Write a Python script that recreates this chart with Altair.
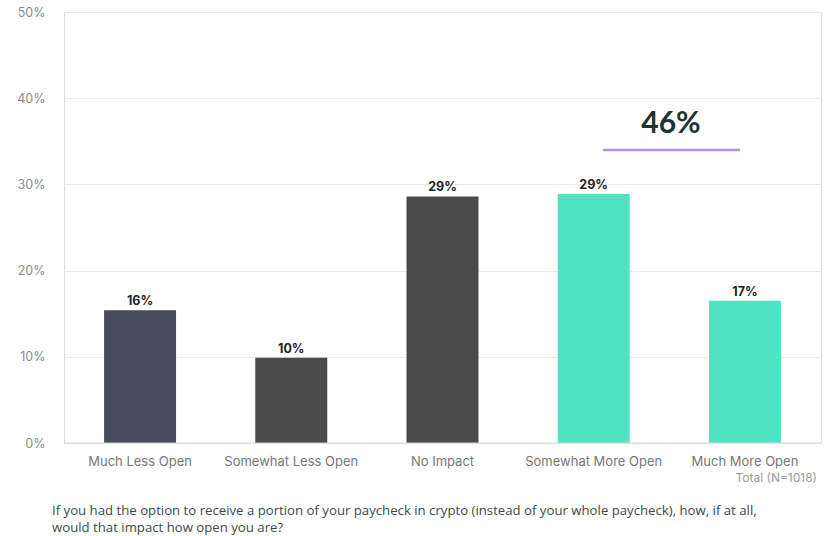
import altair as alt
import pandas as pd

categories = ["Much Less Open", "Somewhat Less Open", "No Impact", "Somewhat More Open", "Much More Open"]
values = [0.154, 0.099, 0.286, 0.289, 0.165]
labels = ["16%", "10%", "29%", "29%", "17%"]
colors = ["#474a5b", "#4a4a4a", "#4a4a4a", "#50e3c2", "#50e3c2"]

highlight_label = "46%"
highlight_y = [0.37]
highlight_line_y = [0.34]
total_note = "Total (N=1018)"
question_text = ("If you had the option to receive a portion of your paycheck in crypto (instead of your whole paycheck), how, if at all,\n"
                 "would that impact how open you are?")

df = pd.DataFrame({"cat": categories, "value": values, "label": labels, "color": colors})

W, H = 757, 431
yscale = alt.Scale(domain=[0, 0.5], nice=False)

x = alt.X("cat:N", sort=categories,
          scale=alt.Scale(paddingInner=0.524, paddingOuter=0.265),
          axis=alt.Axis(title=None, labelAngle=0, labelColor="#777777", labelFont="Inter",
                        labelFontSize=13, labelPadding=12, ticks=False, domain=False))
y = alt.Y("value:Q", scale=yscale,
          axis=alt.Axis(title=None, format=".0%", values=[0, 0.1, 0.2, 0.3, 0.4, 0.5],
                        labelColor="#8a8a8a", labelFont="Inter", labelFontSize=12.5,
                        labelPadding=19, ticks=False, domain=False,
                        gridColor="#e9e9ec", gridWidth=1))

bars = alt.Chart(df).mark_bar().encode(x=x, y=y, color=alt.Color("color:N", scale=None))

bar_labels = alt.Chart(df).mark_text(baseline="bottom", dy=-2, fontWeight="bold",
                                     font="Inter", fontSize=12.5, color="#222222").encode(
    x=alt.X("cat:N", sort=categories), y=alt.Y("value:Q", scale=yscale), text="label:N")

baseline = alt.Chart(pd.DataFrame({"v": [0.0]})).mark_rule(color="#d6d8e0", strokeWidth=1.2).encode(
    y=alt.Y("v:Q", scale=yscale), x=alt.value(0), x2=alt.value(W))

hl = alt.Chart(pd.DataFrame({"v": highlight_y, "t": [highlight_label]})).mark_text(
    font="Lato", fontWeight="bold", fontSize=30, color="#1d3430", baseline="middle", align="center").encode(
    y=alt.Y("v:Q", scale=yscale), x=alt.value(607), text="t:N")

hl_line = alt.Chart(pd.DataFrame({"v": highlight_line_y})).mark_rule(color="#b68af7", strokeWidth=2.5).encode(
    y=alt.Y("v:Q", scale=yscale), x=alt.value(539), x2=alt.value(676))

total = alt.Chart(pd.DataFrame({"t": [total_note]})).mark_text(
    font="Inter", fontSize=12, color="#9a9a9a", align="right", baseline="middle").encode(
    text="t:N", x=alt.value(W - 4), y=alt.value(H + 35))

question = alt.Chart(pd.DataFrame({"t": [question_text]})).mark_text(
    font="Open Sans", fontSize=13.2, color="#3d4a48", align="left", baseline="alphabetic",
    lineBreak="\n", lineHeight=16.5).encode(
    text="t:N", x=alt.value(-12), y=alt.value(H + 72))

chart = alt.layer(bars, baseline, bar_labels, hl, hl_line, total, question).properties(
    width=W, height=H,
    autosize=alt.AutoSizeParams(type="none"),
    padding={"left": 64, "top": 12, "right": 13, "bottom": 93},
).configure_view(stroke=None).configure(background="white")

chart.save("out.html", embed_options={"renderer": "svg", "actions": False})
